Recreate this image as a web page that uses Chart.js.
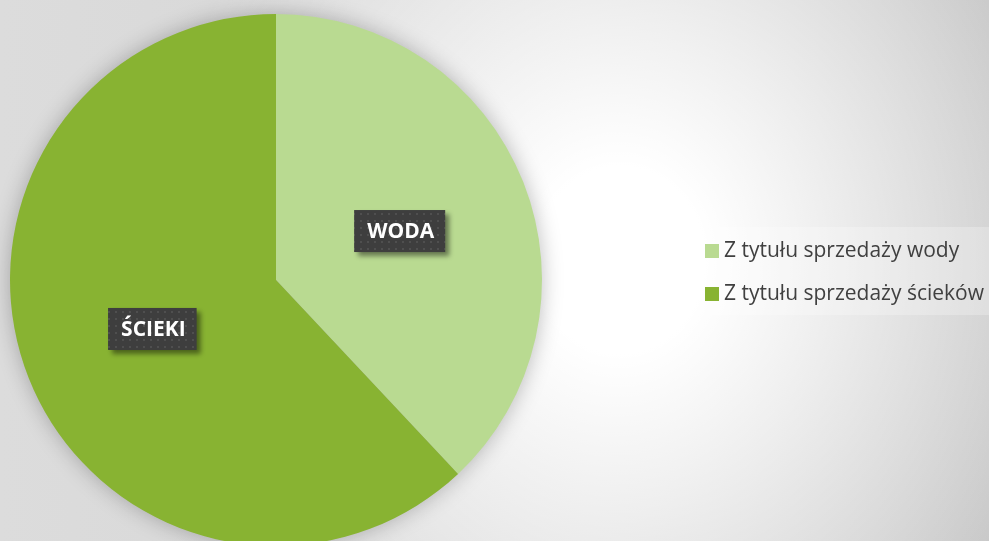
<!DOCTYPE html>
<html>
<head>
<meta charset="utf-8">
<script src="https://cdn.jsdelivr.net/npm/chart.js@4/dist/chart.umd.min.js"></script>
<style>
  html, body {
    margin: 0;
    padding: 0;
    width: 989px;
    height: 541px;
    overflow: hidden;
  }
  body {
    position: relative;
    background:
      radial-gradient(ellipse 470px 520px at 620px 260px, rgba(255,255,255,1) 18%, rgba(255,255,255,0) 100%),
      linear-gradient(to right, #dcdcdc 0%, #d4d4d4 60%, #c6c6c6 100%);
  }
  #wrap {
    position: absolute;
    left: 0;
    top: 0;
    width: 989px;
    height: 560px;
  }
  #legend {
    position: absolute;
    left: 693px;
    top: 227px;
    width: 296px;
    height: 88px;
    background: rgba(255,255,255,0.25);
    font-family: "Open Sans", sans-serif;
    font-size: 21px;
    color: #404040;
  }
  .item {
    position: absolute;
    left: 12px;
    white-space: nowrap;
    line-height: 24px;
  }
  .item span.box {
    display: inline-block;
    width: 14px;
    height: 14px;
    margin-right: 5px;
    vertical-align: -1px;
  }
</style>
</head>
<body>
<div id="wrap"><canvas id="pie" width="989" height="560"></canvas></div>
<div id="legend"></div>
<script>
const labels = ['Z tytułu sprzedaży wody', 'Z tytułu sprzedaży ścieków'];
const shortLabels = ['WODA', 'ŚCIEKI'];
const values = [38, 62];
const colors = ['#b9da91', '#88b332'];

// dotted dark pattern for data label boxes
const makePattern = (ctx) => {
  const c = document.createElement('canvas');
  c.width = 7;
  c.height = 7;
  const p = c.getContext('2d');
  p.fillStyle = '#3e3e3e';
  p.fillRect(0, 0, 7, 7);
  p.fillStyle = '#4f4f4f';
  p.fillRect(3, 3, 2, 2);
  return ctx.createPattern(c, 'repeat');
};

// soft glow around the pie: only the shadow is drawn, the circle itself is off-canvas
const pieShadow = {
  id: 'pieShadow',
  beforeDatasetsDraw(chart) {
    const arc = chart.getDatasetMeta(0).data[0];
    if (!arc) return;
    const ctx = chart.ctx;
    const shift = 5000;
    ctx.save();
    ctx.shadowColor = 'rgba(0,0,0,0.28)';
    ctx.shadowBlur = 22;
    ctx.shadowOffsetX = shift;
    ctx.fillStyle = '#000';
    ctx.beginPath();
    ctx.arc(arc.x - shift, arc.y, arc.outerRadius - 1, 0, Math.PI * 2);
    ctx.fill();
    ctx.restore();
  }
};

const boxLabels = {
  id: 'boxLabels',
  afterDatasetsDraw(chart) {
    const ctx = chart.ctx;
    const pattern = makePattern(ctx);
    chart.getDatasetMeta(0).data.forEach((arc, i) => {
      const pos = arc.tooltipPosition();
      ctx.save();
      ctx.font = 'bold 21px "Open Sans"';
      const w = ctx.measureText(shortLabels[i]).width + 24;
      const h = 42;
      ctx.shadowColor = 'rgba(0,0,0,0.45)';
      ctx.shadowBlur = 5;
      ctx.shadowOffsetX = 4;
      ctx.shadowOffsetY = 4;
      ctx.fillStyle = pattern;
      ctx.fillRect(pos.x - w / 2, pos.y - h / 2, w, h);
      ctx.shadowColor = 'transparent';
      ctx.fillStyle = '#ffffff';
      ctx.textAlign = 'center';
      ctx.textBaseline = 'middle';
      ctx.fillText(shortLabels[i], pos.x + 1, pos.y + 1);
      ctx.restore();
    });
  }
};

new Chart(document.getElementById('pie'), {
  type: 'pie',
  data: {
    labels: labels,
    datasets: [{
      data: values,
      backgroundColor: colors,
      borderWidth: 0
    }]
  },
  options: {
    responsive: false,
    animation: false,
    layout: {
      padding: { left: 10, top: 14, right: 447, bottom: 14 }
    },
    plugins: {
      legend: { display: false },
      tooltip: { enabled: false }
    }
  },
  plugins: [pieShadow, boxLabels]
});

// legend built from the same arrays
const legend = document.getElementById('legend');
labels.forEach((text, i) => {
  const item = document.createElement('div');
  item.className = 'item';
  item.style.top = (10 + i * 43) + 'px';
  const box = document.createElement('span');
  box.className = 'box';
  box.style.background = colors[i];
  item.appendChild(box);
  item.appendChild(document.createTextNode(text));
  legend.appendChild(item);
});
</script>
</body>
</html>
